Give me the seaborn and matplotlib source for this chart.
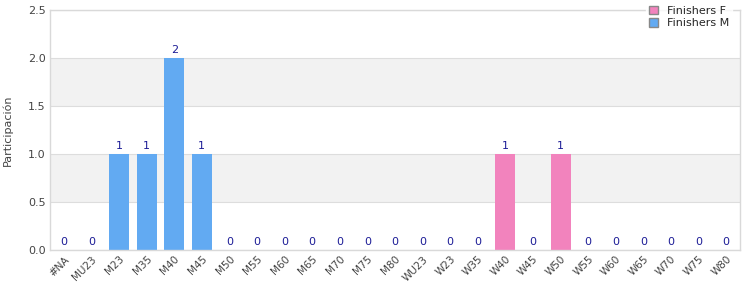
import matplotlib
matplotlib.use("Agg")
import matplotlib.pyplot as plt
import seaborn as sns
import pandas as pd
from matplotlib.patches import Patch

categories = ["#NA", "MU23", "M23", "M35", "M40", "M45", "M50", "M55", "M60", "M65",
              "M70", "M75", "M80", "WU23", "W23", "W35", "W40", "W45", "W50", "W55",
              "W60", "W65", "W70", "W75", "W80"]
finishers_m = [0, 0, 1, 1, 2, 1, 0, 0, 0, 0, 0, 0, 0, 0, 0, 0, 0, 0, 0, 0, 0, 0, 0, 0, 0]
finishers_f = [0, 0, 0, 0, 0, 0, 0, 0, 0, 0, 0, 0, 0, 0, 0, 0, 1, 0, 1, 0, 0, 0, 0, 0, 0]
y_ticks = [0.0, 0.5, 1.0, 1.5, 2.0, 2.5]

color_m = "#62aaf2"
color_f = "#f283bd"
label_color = "#1c1c96"

df = pd.DataFrame({"cat": categories, "M": finishers_m, "F": finishers_f})
df["total"] = df["M"] + df["F"]

sns.set_style("white")
fig = plt.figure(figsize=(7.5, 3), dpi=100)
ax = fig.add_axes([50 / 750, 1 - 250 / 300, 690 / 750, 240 / 300])

# alternating bands
for lo in (0.5, 1.5):
    ax.axhspan(lo, lo + 0.5, color="#f2f2f2", lw=0, zorder=0)
for t in y_ticks:
    ax.axhline(t, color="#dddddd", lw=0.8, zorder=0.5)

sns.barplot(data=df, x="cat", y="M", order=categories, color=color_m,
            width=0.72, saturation=1, linewidth=0, ax=ax, zorder=2)
sns.barplot(data=df, x="cat", y="F", order=categories, color=color_f,
            width=0.72, saturation=1, linewidth=0, ax=ax, zorder=2)

for i, v in enumerate(df["total"]):
    ax.annotate(f"{int(v)}", (i, v), xytext=(0, 2), textcoords="offset points",
                ha="center", va="bottom", fontsize=8, color=label_color, zorder=3)

ax.set_ylim(0, 2.5)
ax.set_xlim(-0.5, len(categories) - 0.5)
ax.set_yticks(y_ticks)
ax.set_yticklabels([f"{t:.1f}" for t in y_ticks], fontsize=8, color="#444444")
ax.set_xticks(range(len(categories)))
ax.set_xticklabels(categories, rotation=45, ha="right", rotation_mode="anchor",
                   fontsize=7.5, color="#444444")
ax.tick_params(axis="both", length=0, pad=3)
ax.set_xlabel("")
ax.set_ylabel("Participación", fontsize=8, color="#444444", labelpad=11)
for s in ax.spines.values():
    s.set_color("#d9d9d9")
    s.set_linewidth(1)

handles = [Patch(facecolor=color_f, edgecolor="#888888", label="Finishers F"),
           Patch(facecolor=color_m, edgecolor="#888888", label="Finishers M")]
leg = fig.legend(handles=handles, loc="upper left", bbox_to_anchor=(640 / 750, 1.01),
                 frameon=True, fontsize=8, handlelength=0.8, handleheight=0.8,
                 handletextpad=0.8, labelspacing=0.2, borderpad=0.3)
leg.get_frame().set_facecolor("white")
leg.get_frame().set_edgecolor("white")
leg.set_zorder(10)

fig.savefig("out.png", dpi=100)
